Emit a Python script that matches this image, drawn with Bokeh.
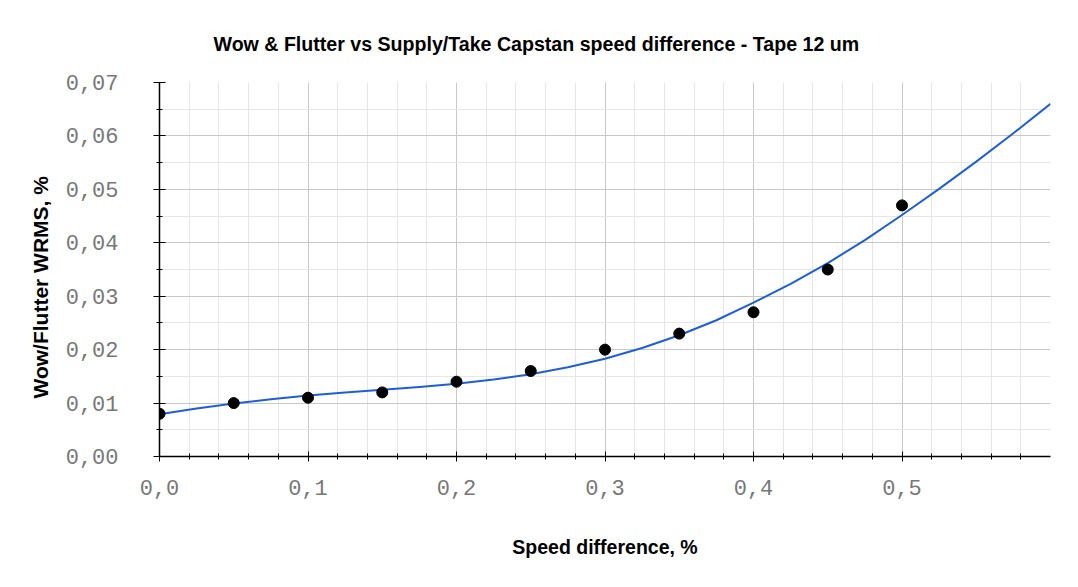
from bokeh.plotting import figure
from bokeh.models import FixedTicker, CustomJSTickFormatter, Range1d, Title
from bokeh.embed import file_html
from bokeh.resources import INLINE

# measured data
speed_diff = [0.0, 0.05, 0.10, 0.15, 0.20, 0.25, 0.30, 0.35, 0.40, 0.45, 0.50]
wow_flutter = [0.008, 0.010, 0.011, 0.012, 0.014, 0.016, 0.020, 0.023, 0.027, 0.035, 0.047]

# trend line
trend_x = [0.0, 0.025, 0.05, 0.075, 0.10, 0.125, 0.15, 0.175, 0.20, 0.225, 0.25,
           0.275, 0.30, 0.325, 0.35, 0.375, 0.40, 0.425, 0.45, 0.475, 0.50,
           0.525, 0.55, 0.575, 0.60]
trend_y = [0.0079, 0.0090, 0.0099, 0.0107, 0.0114, 0.0120, 0.0125, 0.0130, 0.0136, 0.0144, 0.0154,
           0.0167, 0.0183, 0.0203, 0.0227, 0.0255, 0.0288, 0.0323, 0.0362, 0.0405, 0.0452,
           0.0501, 0.0552, 0.0605, 0.0660]

x_ticks = [0.0, 0.1, 0.2, 0.3, 0.4, 0.5]
y_ticks = [0.00, 0.01, 0.02, 0.03, 0.04, 0.05, 0.06, 0.07]
x_minor_ticks = [0.0, 0.02, 0.04, 0.06, 0.08, 0.10, 0.12, 0.14, 0.16, 0.18, 0.20, 0.22, 0.24,
                 0.26, 0.28, 0.30, 0.32, 0.34, 0.36, 0.38, 0.40, 0.42, 0.44, 0.46, 0.48, 0.50,
                 0.52, 0.54, 0.56, 0.58]
y_minor_ticks = [0.0, 0.005, 0.01, 0.015, 0.02, 0.025, 0.03, 0.035, 0.04, 0.045, 0.05,
                 0.055, 0.06, 0.065, 0.07]
title_text = "Wow & Flutter vs Supply/Take Capstan speed difference - Tape 12 um"
x_label = "Speed difference, %"
y_label = "Wow/Flutter WRMS, %"

W, H = 1078, 587
FL, FT, FW, FH = 159, 82, 891, 374
p = figure(width=W, height=H, output_backend="svg", toolbar_location=None,
           x_range=Range1d(0, 0.6), y_range=Range1d(0, 0.07),
           frame_width=FW, frame_height=FH,
           min_border_left=FL, min_border_right=W - FL - FW, min_border_top=FT,
           min_border_bottom=H - FT - FH)
p.outline_line_color = None
p.background_fill_color = "white"
p.border_fill_color = "white"

p.line(trend_x, trend_y, line_color="#1f5fd6", line_width=2, line_join="round")
p.scatter(speed_diff, wow_flutter, size=11, color="black")

p.xaxis.ticker = FixedTicker(ticks=x_ticks, minor_ticks=x_minor_ticks)
p.yaxis.ticker = FixedTicker(ticks=y_ticks, minor_ticks=y_minor_ticks)
p.xaxis.formatter = CustomJSTickFormatter(code="return tick.toFixed(1).replace('.', ',');")
p.yaxis.formatter = CustomJSTickFormatter(code="return tick.toFixed(2).replace('.', ',');")

for ax in (p.xaxis, p.yaxis):
    ax.axis_line_color = "black"
    ax.axis_line_width = 1.5
    ax.major_tick_line_color = "black"
    ax.minor_tick_line_color = "black"
    ax.major_label_text_font = "Liberation Mono"
    ax.major_label_text_font_size = "22px"
    ax.major_label_text_color = "#777777"
    ax.axis_label_text_font = "Liberation Sans"
    ax.axis_label_text_font_style = "bold"
    ax.axis_label_text_font_size = "19.5px"
    ax.axis_label_text_color = "black"

p.xaxis.major_tick_in = 5
p.xaxis.major_tick_out = 5
p.xaxis.minor_tick_in = 3
p.xaxis.minor_tick_out = 3
p.yaxis.major_tick_in = 6
p.yaxis.major_tick_out = 6
p.yaxis.minor_tick_in = 3
p.yaxis.minor_tick_out = 3

p.xaxis.major_label_standoff = 18
p.yaxis.major_label_standoff = 35
p.xaxis.axis_label = x_label
p.xaxis.axis_label_standoff = 38

p.xgrid.grid_line_color = "#c8c8c8"
p.ygrid.grid_line_color = "#c8c8c8"
p.xgrid.minor_grid_line_color = "#e6e6e6"
p.ygrid.minor_grid_line_color = "#e6e6e6"

p.title = Title(text=title_text, align="left", offset=54, standoff=56,
                text_font="Liberation Sans", text_font_style="bold",
                text_font_size="19.6px", text_color="black")

# y axis label as a side title so it can sit off-centre like the reference
ytitle = Title(text=y_label, align="left", offset=58, standoff=21,
               text_font="Liberation Sans", text_font_style="bold",
               text_font_size="21px", text_color="black")
p.add_layout(ytitle, "left")

open("out.html", "w").write(file_html(p, INLINE))
